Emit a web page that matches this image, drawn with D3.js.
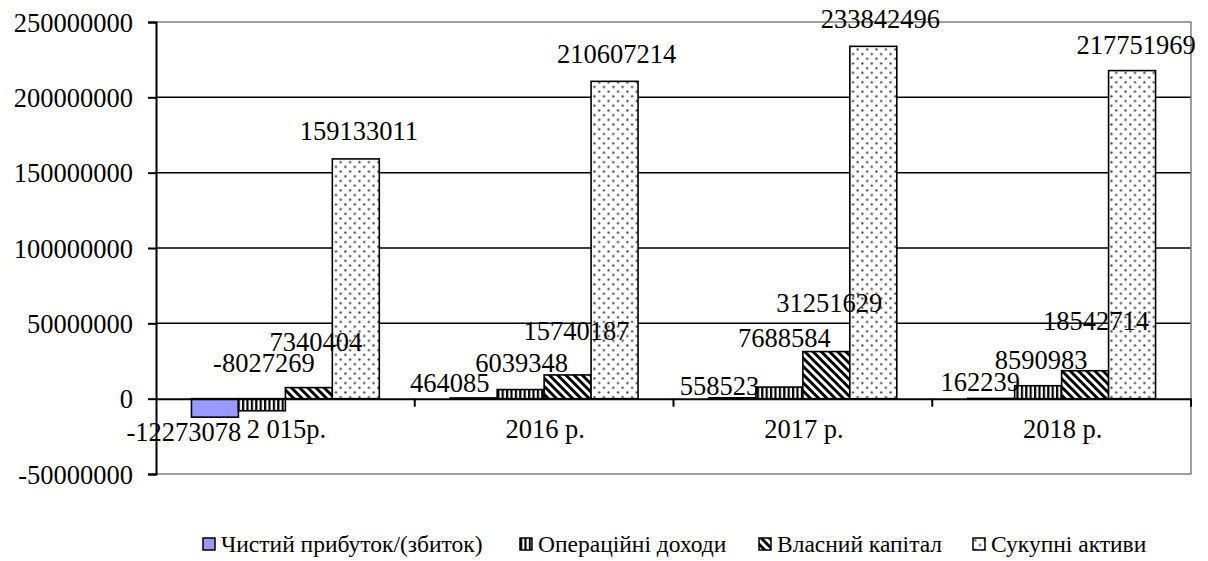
<!DOCTYPE html>
<html>
<head>
<meta charset="utf-8">
<script src="https://cdn.jsdelivr.net/npm/d3@7"></script>
<style>
  html, body { margin: 0; padding: 0; background: #fff; }
  svg { display: block; font-family: "Liberation Serif", "Times New Roman", serif; }
</style>
</head>
<body>
<svg id="chart" width="1208" height="561"></svg>
<script>
// Categories (years) and series
const years = ["2 015р.", "2016 р.", "2017 р.", "2018 р."];
const seriesNames = ["Чистий прибуток/(збиток)", "Операційні доходи", "Власний капітал", "Сукупні активи"];
const netProfit = [-12273078, 464085, 558523, 162239];
const operatingIncome = [-8027269, 6039348, 7688584, 8590983];
const equity = [7340404, 15740187, 31251629, 18542714];
const totalAssets = [159133011, 210607214, 233842496, 217751969];
const yTicks = [-50000000, 0, 50000000, 100000000, 150000000, 200000000, 250000000];

// Hand-placed data label offsets [dx, dy] from the bar end, per series and year
const labelNudge = [
  [[-31, 24], [-24, -6], [-13, -3], [-11, -7]],
  [[2, -39], [1, -18], [5, -40], [3, -17]],
  [[7, -37], [9, -35], [3, -40], [11, -41]],
  [[3, -19], [2, -18], [7, -18], [4, -17]]
];

const seriesValues = [netProfit, operatingIncome, equity, totalAssets];
const fills = ["#9999ff", "url(#vstripe)", "url(#diag)", "url(#dots)"];
const SERIF = "Liberation Serif, Times New Roman, serif";

// Plain integer format with an ASCII hyphen for negatives
const fmt = d3.formatLocale({ decimal: ".", thousands: "", grouping: [3], currency: ["", ""], minus: "-" }).format("d");

const svg = d3.select("#chart");
const plot = { left: 156, right: 1191, top: 22, bottom: 474 };

// Fill patterns
const defs = svg.append("defs");
const vs = defs.append("pattern").attr("id", "vstripe").attr("patternUnits", "userSpaceOnUse")
  .attr("width", 4.4).attr("height", 4);
vs.append("rect").attr("width", 4.4).attr("height", 4).attr("fill", "#fff");
vs.append("rect").attr("width", 2.2).attr("height", 4).attr("fill", "#000");

const dg = defs.append("pattern").attr("id", "diag").attr("patternUnits", "userSpaceOnUse")
  .attr("width", 5.8).attr("height", 6).attr("patternTransform", "rotate(-45)");
dg.append("rect").attr("width", 5.8).attr("height", 6).attr("fill", "#fff");
dg.append("rect").attr("width", 2.9).attr("height", 6).attr("fill", "#000");

const dt = defs.append("pattern").attr("id", "dots").attr("patternUnits", "userSpaceOnUse")
  .attr("width", 9.4).attr("height", 9.4);
dt.append("rect").attr("width", 9.4).attr("height", 9.4).attr("fill", "#fff");
dt.append("circle").attr("cx", 2.3).attr("cy", 2.3).attr("r", 1.15).attr("fill", "#444");
dt.append("circle").attr("cx", 7).attr("cy", 7).attr("r", 1.15).attr("fill", "#444");

// Scales
const x0 = d3.scaleBand().domain(years).range([plot.left, plot.right]).paddingInner(0).paddingOuter(0);
const x1 = d3.scaleBand().domain(d3.range(seriesNames.length)).range([0, x0.bandwidth()])
  .paddingInner(0).paddingOuter(0.755);
const y = d3.scaleLinear().domain([-50000000, 250000000]).range([plot.bottom, plot.top]);

// Horizontal gridlines
svg.append("g").selectAll("line")
  .data(yTicks.filter(t => t > 0 && t < 250000000))
  .join("line")
  .attr("x1", plot.left).attr("x2", plot.right)
  .attr("y1", d => y(d)).attr("y2", d => y(d))
  .attr("stroke", "#000").attr("stroke-width", 1.5);

// Plot area border (top, right, bottom)
svg.append("path")
  .attr("d", `M${plot.left},${y(250000000)}H${plot.right}V${y(-50000000)}H${plot.left}`)
  .attr("fill", "none").attr("stroke", "#808080").attr("stroke-width", 1.5);

// Bars
const groups = svg.append("g").selectAll("g")
  .data(seriesValues)
  .join("g")
  .attr("fill", (d, i) => fills[i]);

groups.selectAll("rect")
  .data((vals, si) => vals.map((v, ci) => ({ v, si, ci })))
  .join("rect")
  .attr("x", d => x0(years[d.ci]) + x1(d.si))
  .attr("width", x1.bandwidth())
  .attr("y", d => y(Math.max(0, d.v)))
  .attr("height", d => Math.abs(y(d.v) - y(0)))
  .attr("stroke", "#000").attr("stroke-width", 1.6);

// Y axis
const yAxis = d3.axisLeft(y).tickValues(yTicks).tickSize(8).tickPadding(15).tickFormat(fmt);
const ya = svg.append("g").attr("transform", `translate(${plot.left},0)`).call(yAxis);
ya.attr("font-family", SERIF);
ya.select(".domain").attr("stroke", "#000").attr("stroke-width", 2);
ya.selectAll(".tick line").attr("stroke", "#000").attr("stroke-width", 2);
ya.selectAll(".tick text").attr("fill", "#000").attr("font-size", "26.5px")
  .attr("font-family", SERIF).attr("dy", "0.34em");

// Category axis at zero
const xAxis = d3.axisBottom(x0).tickSize(0).tickPadding(0).tickFormat("");
const xa = svg.append("g").attr("transform", `translate(0,${y(0)})`).call(xAxis);
xa.select(".domain").attr("stroke", "#000").attr("stroke-width", 2);
xa.selectAll(".tick").remove();
xa.selectAll("line.sep")
  .data(years.slice(1).map(c => x0(c)).concat([plot.right]))
  .join("line").attr("class", "sep")
  .attr("x1", d => d).attr("x2", d => d).attr("y1", 0).attr("y2", 8)
  .attr("stroke", "#000").attr("stroke-width", 2);

// Category labels
svg.append("g").selectAll("text")
  .data(years)
  .join("text")
  .attr("x", d => x0(d) + x0.bandwidth() / 2 + 1)
  .attr("y", 438)
  .attr("text-anchor", "middle")
  .attr("font-family", SERIF)
  .attr("font-size", "26.5px")
  .attr("fill", "#000")
  .text(d => d);

// Data labels
const labels = [];
seriesValues.forEach((vals, si) => vals.forEach((v, ci) => labels.push({ v, si, ci })));
svg.append("g").selectAll("text")
  .data(labels)
  .join("text")
  .attr("x", d => x0(years[d.ci]) + x1(d.si) + x1.bandwidth() / 2 + labelNudge[d.si][d.ci][0])
  .attr("y", d => y(d.v) + labelNudge[d.si][d.ci][1])
  .attr("text-anchor", "middle")
  .attr("font-family", SERIF)
  .attr("font-size", "26.5px")
  .attr("fill", "#000")
  .text(d => fmt(d.v));

// Legend
const legendX = [203, 520, 759, 973];
const legend = svg.append("g").selectAll("g")
  .data(seriesNames)
  .join("g")
  .attr("transform", (d, i) => `translate(${legendX[i]},538)`);
legend.append("rect")
  .attr("width", 12).attr("height", 12)
  .attr("fill", (d, i) => fills[i])
  .attr("stroke", "#000").attr("stroke-width", 1.5);
legend.append("text")
  .attr("x", 18).attr("y", 14)
  .attr("font-family", SERIF)
  .attr("font-size", "23.5px")
  .attr("fill", "#000")
  .text(d => d);
</script>
</body>
</html>
